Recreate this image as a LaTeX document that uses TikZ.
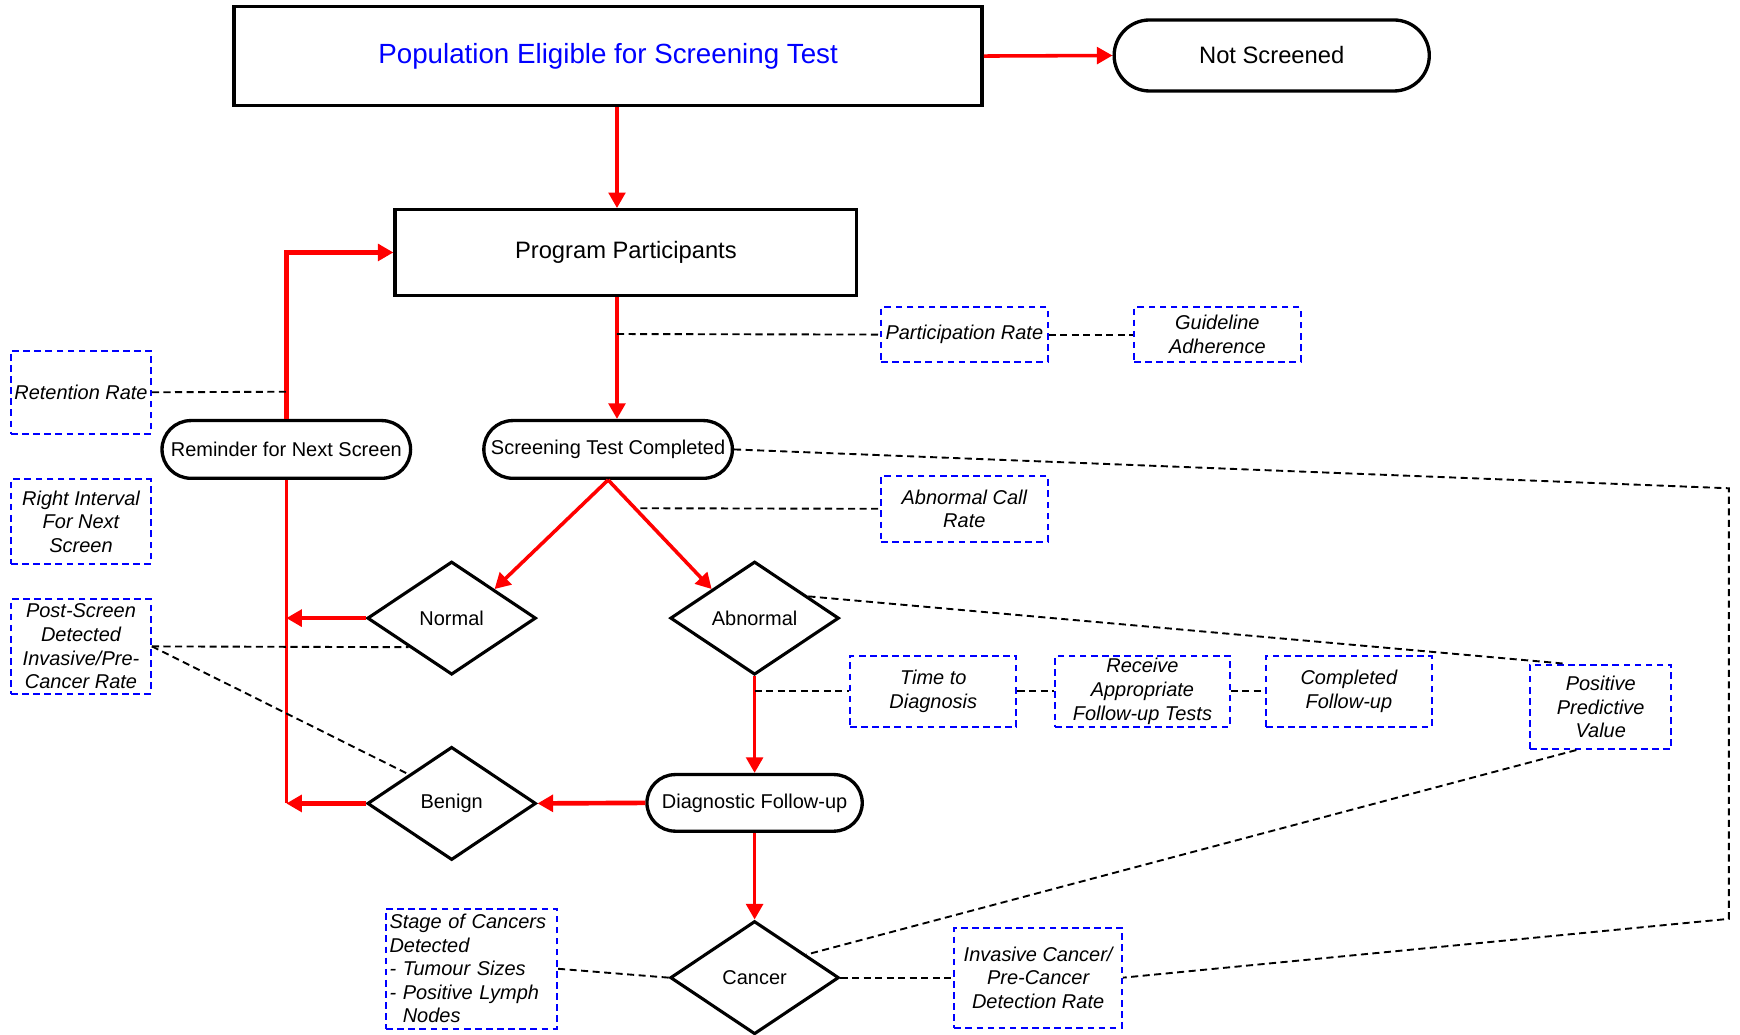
\documentclass[tikz,border=0pt]{standalone}
\usepackage{fontspec}
\setmainfont{Liberation Sans}
\usepackage{tikz}
\usetikzlibrary{arrows.meta,shapes,calc}

\begin{document}
\begin{tikzpicture}[x=0.5pt, y=-0.5pt,
every node/.style={font=\fontsize{9}{10.6}\selectfont, inner sep=1pt},
bigbox/.style={draw, line width=1.5pt, rectangle},
pill/.style={draw, line width=1.5pt, rounded corners=13pt, minimum width=112pt, minimum height=26pt},
decision/.style={draw, diamond, line width=1.4pt, minimum width=76pt, minimum height=51pt, inner sep=0pt},
measure/.style={draw=blue, line width=0.9pt, dash pattern=on 3pt off 2pt, font=\fontsize{9}{10.6}\selectfont\itshape, align=center},
flow/.style={red, line width=1.6pt, -{Triangle[length=7pt,width=7.5pt]}},
flowbold/.style={flow, line width=2.1pt},
link/.style={black, line width=0.85pt, dash pattern=on 3.2pt off 2pt}]
\useasboundingbox (0,0) rectangle (1568,932);
\node[bigbox, minimum width=337pt, minimum height=44.5pt, text=blue, font=\fontsize{12.5}{15}\selectfont] (pop) at (548,50.5) {Population Eligible for Screening Test};
\node[draw, line width=1.5pt, rounded corners=16pt, minimum width=142pt, minimum height=32pt, font=\fontsize{10.7}{13}\selectfont] (notscr) at (1146,50) {Not Screened};
\node[bigbox, minimum width=208pt, minimum height=38.5pt, font=\fontsize{10.7}{13}\selectfont] (prog) at (564,227.5) {Program Participants};
\node[pill] (rem) at (258,405) {Reminder for Next Screen};
\node[pill] (stc) at (548,405) {Screening Test Completed};
\node[decision] (normal) at (407,557) {Normal};
\node[decision] (abn) at (680,557) {Abnormal};
\node[pill, minimum width=97pt, minimum height=25.5pt, rounded corners=12.75pt] (diag) at (680,723.5) {Diagnostic Follow-up};
\node[decision] (benign) at (407,724) {Benign};
\node[decision] (cancer) at (680,881) {Cancer};
\node[measure, minimum width=63pt, minimum height=37.5pt] (ret) at (73,353.5) {Retention Rate};
\node[measure, minimum width=63pt, minimum height=38pt] (rint) at (73,470) {Right Interval\\For Next\\Screen};
\node[measure, minimum width=63pt, minimum height=42.5pt] (post) at (73,582.5) {Post-Screen\\Detected\\Invasive/Pre-\\Cancer Rate};
\node[measure, minimum width=75pt, minimum height=24.5pt] (part) at (869,301.5) {Participation Rate};
\node[measure, minimum width=75pt, minimum height=24.5pt] (guide) at (1097,301.5) {Guideline\\Adherence};
\node[measure, minimum width=75pt, minimum height=29.5pt] (acr) at (869,458.5) {Abnormal Call\\Rate};
\node[measure, minimum width=75pt, minimum height=32pt] (ttd) at (841,623) {Time to\\Diagnosis};
\node[measure, minimum width=78.5pt, minimum height=32pt] (recv) at (1029.5,623) {Receive\\Appropriate\\Follow-up Tests};
\node[measure, minimum width=74.5pt, minimum height=32pt] (comp) at (1215.5,623) {Completed\\Follow-up};
\node[measure, minimum width=63.5pt, minimum height=38pt] (ppv) at (1442.5,637) {Positive\\Predictive\\Value};
\node[measure, minimum width=77pt, minimum height=54pt, text width=74pt, align=left] (stage) at (425,873) {Stage of Cancers\\Detected\\- Tumour Sizes\\- Positive Lymph\\\phantom{-~}Nodes};
\node[measure, minimum width=75.5pt, minimum height=45pt] (inv) at (935.5,881) {Invasive Cancer/\\Pre-Cancer\\Detection Rate};
\coordinate (partjoin) at (556,301);
\coordinate (retjoin) at (258,353);
\coordinate (acrjoin) at (577,458);
\coordinate (ttdjoin) at (680,623);
\coordinate (c1) at (1558,440);
\coordinate (c2) at (1558,828);
\draw[flow] (pop.east) -- (notscr.west);
\draw[flow] (pop.south -| partjoin) -- (prog.north -| partjoin);
\draw[flow] (prog.south -| partjoin) -- (stc.north -| partjoin);
\draw[flow] (stc.south) -- (normal.north east);
\draw[flow] (stc.south) -- (abn.north west);
\draw[flow] (abn.south) -- (diag.north);
\draw[flowbold] (diag.west) -- (benign.east);
\draw[flow] (diag.south) -- (cancer.north);
\draw[flowbold] (rem.north) |- (prog.west);
\draw[red, line width=1.6pt] (rem.south) -- (rem.south |- benign.west);
\draw[flowbold] (normal.west) -- (normal.west -| rem.south);
\draw[flowbold] (benign.west) -- (benign.west -| rem.south);
\draw[link] (partjoin) -- (part.west);
\draw[link] (part.east) -- (guide.west);
\draw[link] (ret.east) -- (retjoin);
\draw[link] (stc.east) -- (c1) -- (c2) -- (inv.east);
\draw[link] (acrjoin) -- (acr.west);
\draw[link] (abn.22) -- ([xshift=-16pt]ppv.north);
\draw[link] (ttdjoin) -- (ttd.west);
\draw[link] (ttd.east) -- (recv.west);
\draw[link] (recv.east) -- (comp.west);
\draw[link] ([xshift=-11pt]ppv.south) -- (cancer.24);
\draw[link] (post.east) -- (normal.south west);
\draw[link] (post.east) -- (benign.north west);
\draw[link] (stage.east) -- (cancer.west);
\draw[link] (cancer.east) -- (inv.west);
\end{tikzpicture}
\end{document}
